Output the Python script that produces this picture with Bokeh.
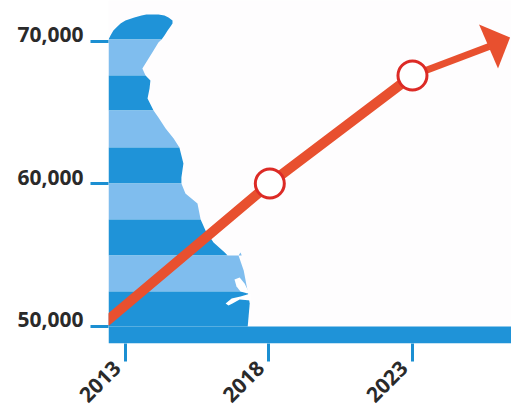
from math import pi
from bokeh.plotting import figure
from bokeh.models import FixedTicker, Range1d, LinearAxis
from bokeh.embed import file_html
from bokeh.resources import INLINE

tick_years = [2013, 2018, 2023]
tick_values = [50000, 60000, 70000]
value_labels = {50000: "50,000", 60000: "60,000", 70000: "70,000"}

# Population trend
trend_years = [2012.2, 2018.03, 2023.0]
trend_values = [50134, 60036, 67615]
tail_years = [2023.0, 2025.67]
tail_values = [67615, 69650]
marker_years = [2018.03, 2023.0]
marker_values = [60036, 67615]
head_years = [2025.32, 2026.40, 2025.98]
head_values = [71194, 70282, 68106]

# State silhouette: value, left edge, right edge
state_left_edge = 2012.41
state_values = [71896, 71826, 71686, 71475, 71265, 71054, 70773, 70422, 70142,
                69931, 69370, 68106, 67615, 67264, 66703, 66001, 65159, 64668,
                63896, 63194, 62562, 61439, 60457, 60036, 59334, 58632, 57509,
                56737, 55895, 55193, 54983, 54983, 53930, 52456, 51614, 50000]
state_left = [2013.73, 2013.56, 2013.31, 2013.0, 2012.83, 2012.72, 2012.58, 2012.48, 2012.41]
state_right = [2014.15, 2014.36, 2014.50, 2014.64, 2014.64, 2014.57, 2014.47, 2014.36, 2014.26,
               2014.15, 2013.98, 2013.59, 2013.70, 2013.87, 2013.84, 2013.77, 2013.98, 2014.15,
               2014.40, 2014.68, 2014.88, 2015.02, 2014.95, 2014.95, 2015.09, 2015.51, 2015.62,
               2015.79, 2016.07, 2016.46, 2016.56, 2016.94, 2017.12, 2017.26, 2017.33, 2017.26]
stripe_edges = [71896, 70142, 67615, 65159, 62562, 60036, 57509, 54983, 52456, 50000]
bump_years = [2016.94, 2017.01, 2017.05]
bump_values = [54983, 55193, 54983]
pond_years = [2016.80, 2016.98, 2017.15, 2017.29, 2017.26, 2017.01, 2016.87]
pond_values = [53298, 53439, 53018, 52456, 52316, 52456, 52807]
inlet_years = [2016.49, 2016.70, 2017.01, 2017.36, 2017.36, 2016.98, 2016.73, 2016.59]
inlet_values = [51614, 51965, 52105, 52316, 51825, 51895, 51614, 51474]

DARK = "#1f93d8"
LIGHT = "#7fbdee"
RED = "#e8502f"
RING = "#dc2b26"
TICK = "#1b8fd2"
TEXT = "#2a2a2a"

x_lo, x_hi = 2012.41, 2026.45
y_lo, y_hi = 48807, 72877
label_shift_years = 0.3     # year labels sit a little left of their ticks
label_shift_values = 490    # value labels sit a little above their ticks

p = figure(width=511, height=412, frame_width=403, frame_height=343,
           output_backend="svg", toolbar_location=None,
           x_range=Range1d(x_lo, x_hi), y_range=Range1d(y_lo, y_hi),
           min_border_left=108, min_border_bottom=0, min_border_top=0, min_border_right=0)
p.outline_line_color = None
p.grid.visible = False
p.background_fill_color = "#fefdfe"
p.extra_x_ranges = {"labels": Range1d(x_lo + label_shift_years, x_hi + label_shift_years)}
p.extra_y_ranges = {"labels": Range1d(y_lo - label_shift_values, y_hi - label_shift_values)}

# striped silhouette
lefts = state_left + [state_left_edge] * (len(state_values) - len(state_left))
for i in range(len(stripe_edges) - 1):
    hi, lo = stripe_edges[i], stripe_edges[i + 1]
    idx = [k for k, v in enumerate(state_values) if lo <= v <= hi]
    # the notch: two samples share one value, each stripe takes its own
    if hi == 54983:
        idx = [k for k in idx if not (state_values[k] == 54983 and k == 30)]
    if lo == 54983:
        idx = [k for k in idx if not (state_values[k] == 54983 and k == 31)]
    color = DARK if i % 2 == 0 else LIGHT
    p.harea(x1=[lefts[k] for k in idx], x2=[state_right[k] for k in idx],
            y=[state_values[k] for k in idx], fill_color=color)

p.patch(bump_years, bump_values, fill_color=LIGHT, line_color=None)
p.quad(left=[x_lo], right=[x_hi], bottom=[y_lo], top=[tick_values[0]],
       fill_color=DARK, line_color=None)
p.patch(pond_years, pond_values, fill_color="white", line_color=None)
p.patch(inlet_years, inlet_values, fill_color="white", line_color=None)

# trend arrow
p.line(trend_years, trend_values, line_color=RED, line_width=10)
p.line(tail_years, tail_values, line_color=RED, line_width=7)
p.patch(head_years, head_values, fill_color=RED, line_color=None)
p.scatter(marker_years, marker_values, size=29, marker="circle",
          fill_color="white", line_color=RING, line_width=3)

# tick axes (marks only; their label slots are left empty)
p.xaxis.ticker = FixedTicker(ticks=tick_years)
p.yaxis.ticker = FixedTicker(ticks=tick_values)
p.xaxis.major_label_overrides = {t: "" for t in tick_years}
p.yaxis.major_label_overrides = {t: "" for t in tick_values}
for ax in (p.xaxis[0], p.yaxis[0]):
    ax.axis_line_color = None
    ax.major_tick_line_color = TICK
    ax.major_tick_line_width = 3
    ax.major_tick_in = 0
    ax.major_tick_out = 18
    ax.minor_tick_line_color = None
    ax.major_label_text_font_size = "1px"
    ax.major_label_standoff = 0

# label axes
x_labels = LinearAxis(x_range_name="labels", ticker=FixedTicker(ticks=tick_years),
                      major_label_orientation=pi / 4, major_label_standoff=3)
y_labels = LinearAxis(y_range_name="labels", ticker=FixedTicker(ticks=tick_values),
                      major_label_overrides=value_labels, major_label_standoff=7)
for ax in (x_labels, y_labels):
    ax.axis_line_color = None
    ax.major_tick_line_color = None
    ax.major_tick_in = 0
    ax.major_tick_out = 0
    ax.minor_tick_line_color = None
    ax.major_label_text_font = "Open Sans"
    ax.major_label_text_font_style = "bold"
    ax.major_label_text_font_size = "21px"
    ax.major_label_text_color = TEXT
p.add_layout(x_labels, "below")
p.add_layout(y_labels, "left")

open("out.html", "w").write(file_html(p, INLINE))
